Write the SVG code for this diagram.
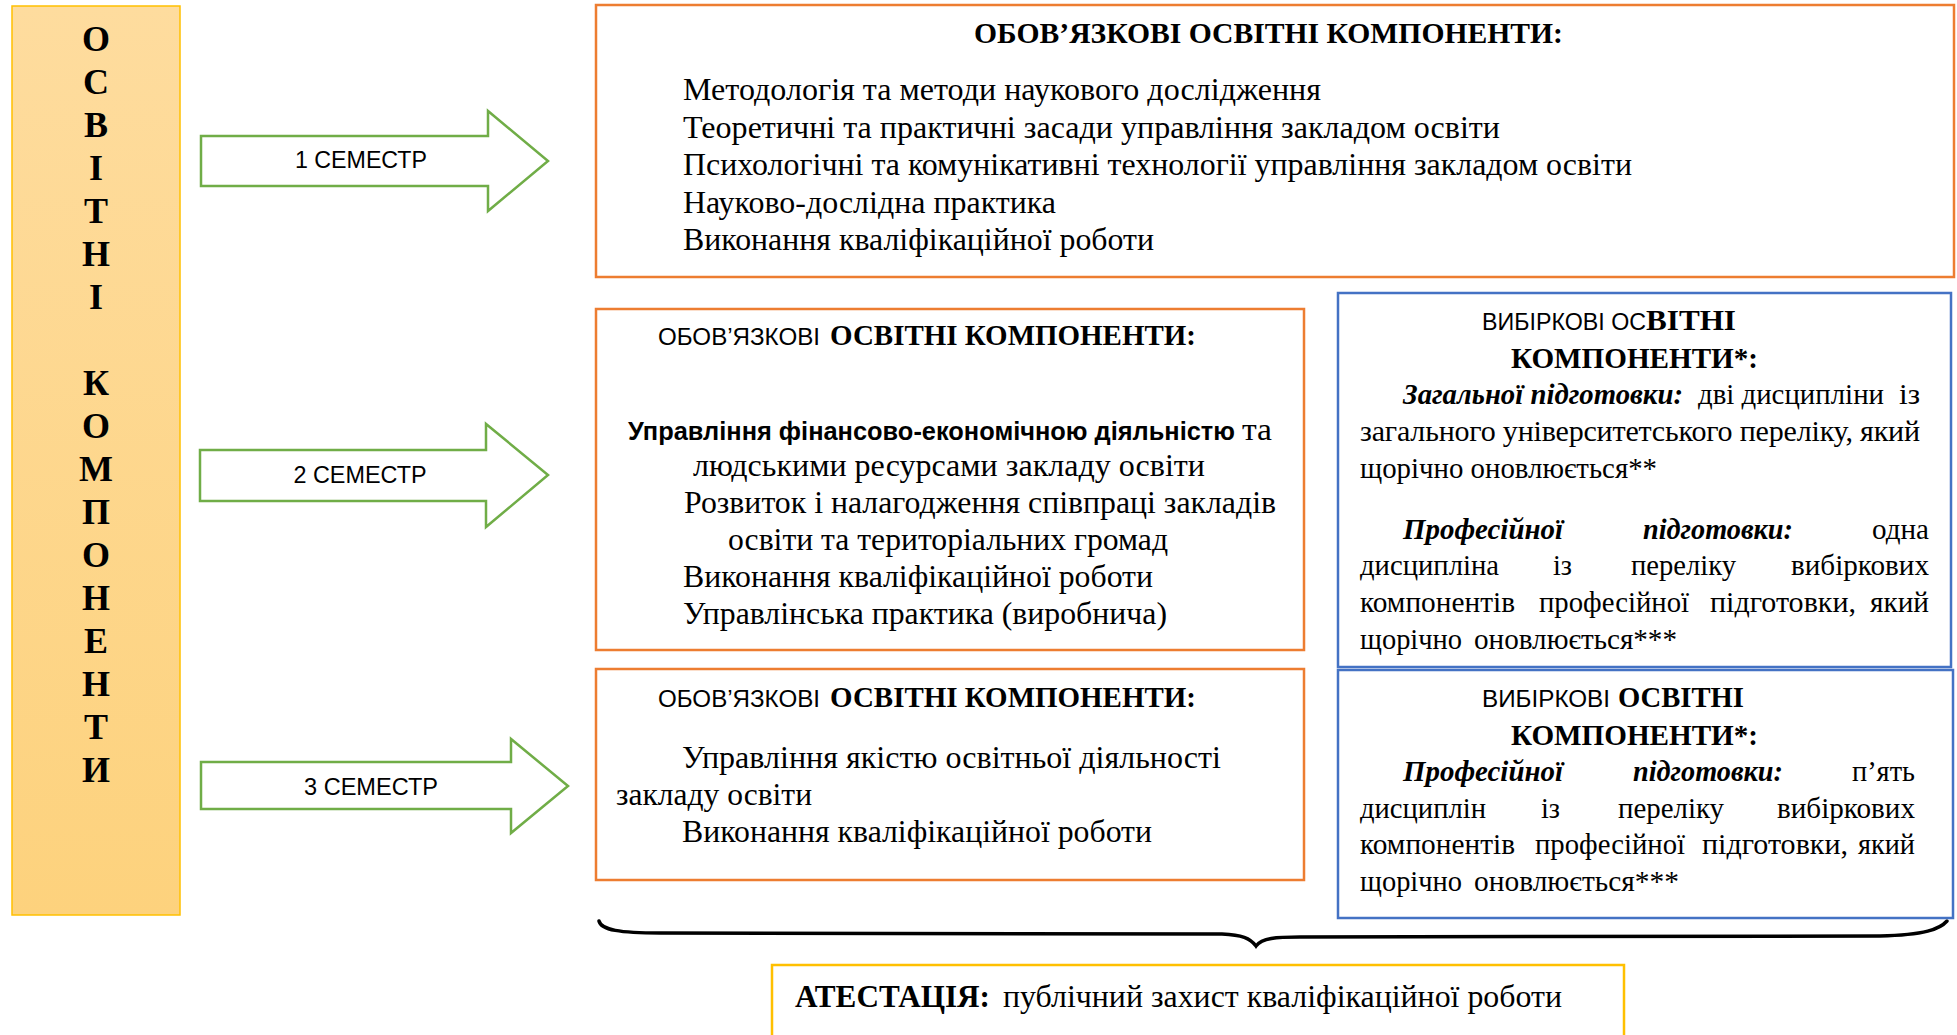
<svg xmlns="http://www.w3.org/2000/svg" width="1957" height="1035" viewBox="0 0 1957 1035">
<defs>
<linearGradient id="yg" x1="0" y1="0" x2="0" y2="1">
<stop offset="0" stop-color="#FEDC9E"/>
<stop offset="1" stop-color="#FDD27D"/>
</linearGradient>
<style>
.ob{fill:#fff;stroke:#ED7D31;stroke-width:2.5}
.bb{fill:#fff;stroke:#4472C4;stroke-width:2.5}
.arr{fill:#fff;stroke:#70AD47;stroke-width:2.5;stroke-linejoin:miter}
.s{font-family:"Liberation Serif","Times New Roman",serif;fill:#000}
.sb{font-family:"Liberation Serif","Times New Roman",serif;font-weight:bold;fill:#000}
.sbi{font-family:"Liberation Serif","Times New Roman",serif;font-weight:bold;font-style:italic;fill:#000}
.ss{font-family:"Liberation Sans",Arial,sans-serif;fill:#000}
.ssb{font-family:"Liberation Sans",Arial,sans-serif;font-weight:bold;fill:#000}
.b32{font-size:32px}
.b30{font-size:30px}
.t29{font-size:29px}
.v{font-family:"Liberation Serif","Times New Roman",serif;font-weight:bold;font-size:36px;text-anchor:middle;fill:#000}
.lbl{font-family:"Liberation Sans",Arial,sans-serif;font-size:23px;text-anchor:middle;fill:#000}
</style>
</defs>
<rect width="1957" height="1035" fill="#fff"/>

<g id="vertical-label">
<rect x="12" y="6" width="168" height="909" fill="url(#yg)" stroke="#FFC000" stroke-width="1.5"/>
<text class="v" x="96" y="51">О</text>
<text class="v" x="96" y="94">С</text>
<text class="v" x="96" y="137">В</text>
<text class="v" x="96" y="180">І</text>
<text class="v" x="96" y="223">Т</text>
<text class="v" x="96" y="266">Н</text>
<text class="v" x="96" y="309">І</text>
<text class="v" x="96" y="395">К</text>
<text class="v" x="96" y="438">О</text>
<text class="v" x="96" y="481">М</text>
<text class="v" x="96" y="524">П</text>
<text class="v" x="96" y="567">О</text>
<text class="v" x="96" y="610">Н</text>
<text class="v" x="96" y="653">Е</text>
<text class="v" x="96" y="696">Н</text>
<text class="v" x="96" y="739">Т</text>
<text class="v" x="96" y="782">И</text>
</g>

<g id="connectors">
<g id="arrow-sem1">
<polygon class="arr" points="201,136 488,136 488,111 548,161 488,211 488,186 201,186"/>
<text class="lbl" x="361" y="168" textLength="132" lengthAdjust="spacingAndGlyphs">1 СЕМЕСТР</text>
</g>
<g id="arrow-sem2">
<polygon class="arr" points="200,450 486,450 486,424 548,475 486,527 486,501 200,501"/>
<text class="lbl" x="360" y="483" textLength="133" lengthAdjust="spacingAndGlyphs">2 СЕМЕСТР</text>
</g>
<g id="arrow-sem3">
<polygon class="arr" points="201,762 511,762 511,739 568,786 511,833 511,809 201,809"/>
<text class="lbl" x="371" y="795" textLength="134" lengthAdjust="spacingAndGlyphs">3 СЕМЕСТР</text>
</g>
<path id="brace" d="M599,921 C601,930 620,933 660,933 L1222,934 C1242,935 1250,938 1256,946 C1262,938 1276,937 1300,937 L1880,936 C1925,935 1940,929 1947,921" fill="none" stroke="#000" stroke-width="3.5" stroke-linecap="round"/>
</g>

<g id="mandatory-1">
<rect class="ob" x="596" y="5" width="1358" height="272"/>
<text class="sb t29" x="974" y="43" textLength="589" lengthAdjust="spacingAndGlyphs">ОБОВ’ЯЗКОВІ ОСВІТНІ КОМПОНЕНТИ:</text>
<text class="s b32" x="683" y="100" textLength="638" lengthAdjust="spacingAndGlyphs">Методологія та методи наукового дослідження</text>
<text class="s b32" x="683" y="137.5" textLength="817" lengthAdjust="spacingAndGlyphs">Теоретичні та практичні засади управління закладом освіти</text>
<text class="s b32" x="683" y="175" textLength="949" lengthAdjust="spacingAndGlyphs">Психологічні та комунікативні технології управління закладом освіти</text>
<text class="s b32" x="683" y="212.5" textLength="373" lengthAdjust="spacingAndGlyphs">Науково-дослідна практика</text>
<text class="s b32" x="683" y="250" textLength="471" lengthAdjust="spacingAndGlyphs">Виконання кваліфікаційної роботи</text>
</g>

<g id="mandatory-2">
<rect class="ob" x="596" y="309" width="708" height="341"/>
<text y="345"><tspan class="ss" font-size="24" x="658" textLength="162" lengthAdjust="spacingAndGlyphs">ОБОВ’ЯЗКОВІ</tspan><tspan class="sb t29" x="830" textLength="366" lengthAdjust="spacingAndGlyphs">ОСВІТНІ КОМПОНЕНТИ:</tspan></text>
<text y="440"><tspan class="ssb" font-size="25" x="628" textLength="607" lengthAdjust="spacingAndGlyphs">Управління фінансово-економічною діяльністю</tspan><tspan class="s b32" x="1242" textLength="30" lengthAdjust="spacingAndGlyphs">та</tspan></text>
<text class="s b32" x="693" y="476" textLength="512" lengthAdjust="spacingAndGlyphs">людськими ресурсами закладу освіти</text>
<text class="s b32" x="684" y="513" textLength="592" lengthAdjust="spacingAndGlyphs">Розвиток і налагодження співпраці закладів</text>
<text class="s b32" x="728" y="550" textLength="440" lengthAdjust="spacingAndGlyphs">освіти та територіальних громад</text>
<text class="s b32" x="683" y="587" textLength="470" lengthAdjust="spacingAndGlyphs">Виконання кваліфікаційної роботи</text>
<text class="s b32" x="683" y="624" textLength="484" lengthAdjust="spacingAndGlyphs">Управлінська практика (виробнича)</text>
</g>

<g id="mandatory-3">
<rect class="ob" x="596" y="669" width="708" height="211"/>
<text y="707"><tspan class="ss" font-size="24" x="658" textLength="162" lengthAdjust="spacingAndGlyphs">ОБОВ’ЯЗКОВІ</tspan><tspan class="sb t29" x="830" textLength="366" lengthAdjust="spacingAndGlyphs">ОСВІТНІ КОМПОНЕНТИ:</tspan></text>
<text class="s b32" x="682" y="768" textLength="539" lengthAdjust="spacingAndGlyphs">Управління якістю освітньої діяльності</text>
<text class="s b32" x="616" y="805" textLength="196" lengthAdjust="spacingAndGlyphs">закладу освіти</text>
<text class="s b32" x="682" y="842" textLength="470" lengthAdjust="spacingAndGlyphs">Виконання кваліфікаційної роботи</text>
</g>

<g id="elective-2">
<rect class="bb" x="1338" y="293" width="613" height="374"/>
<text y="330"><tspan class="ss" font-size="24" x="1482" textLength="164" lengthAdjust="spacingAndGlyphs">ВИБІРКОВІ ОС</tspan><tspan class="sb t29" textLength="90" lengthAdjust="spacingAndGlyphs">ВІТНІ</tspan></text>
<text class="sb t29" x="1511" y="368" textLength="247" lengthAdjust="spacingAndGlyphs">КОМПОНЕНТИ*:</text>
<text y="404"><tspan class="sbi b30" x="1403" textLength="280" lengthAdjust="spacingAndGlyphs">Загальної підготовки:</tspan><tspan class="s b30" x="1698" textLength="186" lengthAdjust="spacingAndGlyphs">дві дисципліни</tspan><tspan class="s b30" x="1899" textLength="21" lengthAdjust="spacingAndGlyphs">із</tspan></text>
<text class="s b30" x="1360" y="441" textLength="560" lengthAdjust="spacing">загального університетського переліку, який</text>
<text class="s b30" x="1360" y="478" textLength="297" lengthAdjust="spacingAndGlyphs">щорічно оновлюється**</text>
<text y="539"><tspan class="sbi b30" x="1403" textLength="160" lengthAdjust="spacingAndGlyphs">Професійної</tspan><tspan class="sbi b30" x="1643" textLength="150" lengthAdjust="spacingAndGlyphs">підготовки:</tspan><tspan class="s b30" x="1872" textLength="57" lengthAdjust="spacingAndGlyphs">одна</tspan></text>
<text y="575"><tspan class="s b30" x="1360" textLength="139" lengthAdjust="spacingAndGlyphs">дисципліна</tspan><tspan class="s b30" x="1553" textLength="19" lengthAdjust="spacingAndGlyphs">із</tspan><tspan class="s b30" x="1631" textLength="105" lengthAdjust="spacingAndGlyphs">переліку</tspan><tspan class="s b30" x="1791" textLength="138" lengthAdjust="spacingAndGlyphs">вибіркових</tspan></text>
<text y="612"><tspan class="s b30" x="1360" textLength="155" lengthAdjust="spacingAndGlyphs">компонентів</tspan><tspan class="s b30" x="1539" textLength="150" lengthAdjust="spacingAndGlyphs">професійної</tspan><tspan class="s b30" x="1710" textLength="146" lengthAdjust="spacingAndGlyphs">підготовки,</tspan><tspan class="s b30" x="1870" textLength="59" lengthAdjust="spacingAndGlyphs">який</tspan></text>
<text y="649"><tspan class="s b30" x="1360" textLength="102" lengthAdjust="spacingAndGlyphs">щорічно</tspan><tspan class="s b30" x="1474" textLength="203" lengthAdjust="spacingAndGlyphs">оновлюється***</tspan></text>
</g>

<g id="elective-3">
<rect class="bb" x="1338" y="670" width="615" height="248"/>
<text y="707"><tspan class="ss" font-size="24" x="1482" textLength="128" lengthAdjust="spacingAndGlyphs">ВИБІРКОВІ</tspan><tspan class="sb t29" x="1618" textLength="126" lengthAdjust="spacingAndGlyphs">ОСВІТНІ</tspan></text>
<text class="sb t29" x="1511" y="745" textLength="247" lengthAdjust="spacingAndGlyphs">КОМПОНЕНТИ*:</text>
<text y="781"><tspan class="sbi b30" x="1403" textLength="160" lengthAdjust="spacingAndGlyphs">Професійної</tspan><tspan class="sbi b30" x="1633" textLength="150" lengthAdjust="spacingAndGlyphs">підготовки:</tspan><tspan class="s b30" x="1852" textLength="63" lengthAdjust="spacingAndGlyphs">п’ять</tspan></text>
<text y="818"><tspan class="s b30" x="1360" textLength="126" lengthAdjust="spacingAndGlyphs">дисциплін</tspan><tspan class="s b30" x="1541" textLength="19" lengthAdjust="spacingAndGlyphs">із</tspan><tspan class="s b30" x="1618" textLength="106" lengthAdjust="spacingAndGlyphs">переліку</tspan><tspan class="s b30" x="1777" textLength="138" lengthAdjust="spacingAndGlyphs">вибіркових</tspan></text>
<text y="854"><tspan class="s b30" x="1360" textLength="155" lengthAdjust="spacingAndGlyphs">компонентів</tspan><tspan class="s b30" x="1535" textLength="150" lengthAdjust="spacingAndGlyphs">професійної</tspan><tspan class="s b30" x="1702" textLength="146" lengthAdjust="spacingAndGlyphs">підготовки,</tspan><tspan class="s b30" x="1858" textLength="57" lengthAdjust="spacingAndGlyphs">який</tspan></text>
<text y="891"><tspan class="s b30" x="1360" textLength="102" lengthAdjust="spacingAndGlyphs">щорічно</tspan><tspan class="s b30" x="1474" textLength="205" lengthAdjust="spacingAndGlyphs">оновлюється***</tspan></text>
</g>

<g id="attestation">
<rect x="772" y="965" width="852" height="90" fill="#fff" stroke="#FFC000" stroke-width="2.5"/>
<text y="1007"><tspan class="sb" font-size="31" x="795" textLength="195" lengthAdjust="spacingAndGlyphs">АТЕСТАЦІЯ:</tspan><tspan class="s b32" x="1003" textLength="559" lengthAdjust="spacingAndGlyphs">публічний захист кваліфікаційної роботи</tspan></text>
</g>
</svg>
